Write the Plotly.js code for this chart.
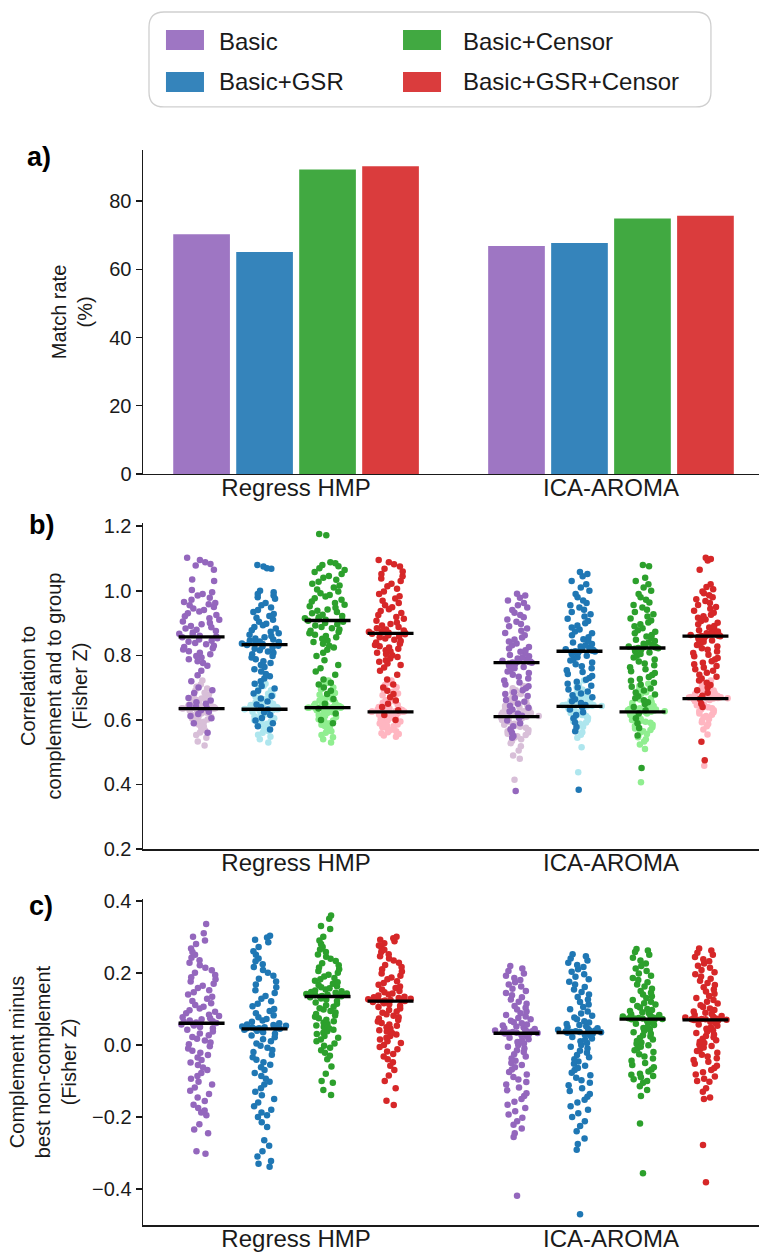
<!DOCTYPE html>
<html>
<head>
<meta charset="utf-8">
<script src="https://cdn.plot.ly/plotly-3.0.1.min.js"></script>
<style>html,body{margin:0;padding:0;background:#fff}#chart{width:759px;height:1252px}</style>
</head>
<body>
<div id="chart"></div>
<script>
// ---------------- DATA ----------------
const GROUPS = ['Regress HMP', 'ICA-AROMA'];
const SERIES = ['Basic', 'Basic+GSR', 'Basic+Censor', 'Basic+GSR+Censor'];

// a) match rate (%) per group [Regress HMP, ICA-AROMA]
const matchRateBasic = [70.3, 66.8];
const matchRateGsr = [65.1, 67.7];
const matchRateCensor = [89.3, 74.9];
const matchRateGsrCensor = [90.2, 75.7];

// b) correlation to complement (dark) and to group (light), Fisher Z
const hmpBasicComp = [1.102,1.095,1.088,1.083,1.078,1.065,1.035,1.030,1.002,0.995,0.990,0.985,0.978,0.972,0.965,0.962,0.958,0.955,0.950,0.945,0.940,0.936,0.930,0.925,0.921,0.915,0.910,0.905,0.900,0.896,0.891,0.887,0.883,0.879,0.875,0.871,0.867,0.864,0.861,0.858,
0.856,0.853,0.849,0.845,0.842,0.838,0.834,0.830,0.826,0.822,0.818,0.813,0.808,0.803,0.798,0.793,0.788,0.782,0.776,0.768,0.752,0.738,0.720,0.700,0.692,0.683,0.668,0.660,0.655,0.650,0.646,0.641,0.636,0.630,0.625,0.618,0.612,0.605,0.590,0.560];
const hmpBasicGroup = [0.722,0.710,0.703,0.697,0.690,0.684,0.679,0.674,0.670,0.666,0.662,0.659,0.656,0.653,0.651,0.649,0.647,0.645,0.643,0.642,0.641,0.640,0.639,0.638,0.638,0.637,0.637,0.636,0.636,0.635,
0.635,0.634,0.633,0.632,0.631,0.629,0.628,0.626,0.624,0.622,0.620,0.618,0.615,0.613,0.610,0.607,0.604,0.601,0.598,0.594,0.590,0.585,0.580,0.574,0.568,0.561,0.553,0.545,0.533,0.521];
const hmpGsrComp = [1.080,1.075,1.070,1.068,1.000,0.995,0.990,0.985,0.980,0.975,0.962,0.955,0.948,0.940,0.934,0.928,0.922,0.916,0.910,0.904,0.898,0.893,0.888,0.883,0.878,0.873,0.868,0.864,0.860,0.856,0.852,0.849,0.846,0.843,0.841,0.839,0.837,0.836,0.835,0.834,
0.832,0.830,0.827,0.824,0.820,0.816,0.812,0.808,0.803,0.798,0.793,0.788,0.782,0.776,0.770,0.764,0.757,0.750,0.742,0.735,0.728,0.720,0.712,0.705,0.697,0.690,0.682,0.674,0.666,0.657,0.648,0.640,0.632,0.624,0.615,0.606,0.598,0.590,0.580,0.570];
const hmpGsrGroup = [0.712,0.705,0.698,0.692,0.686,0.681,0.676,0.672,0.668,0.664,0.661,0.658,0.655,0.652,0.650,0.648,0.646,0.644,0.642,0.641,0.640,0.639,0.638,0.637,0.636,0.635,0.635,0.634,0.634,0.633,
0.633,0.632,0.631,0.630,0.628,0.627,0.625,0.623,0.621,0.619,0.616,0.614,0.611,0.608,0.605,0.602,0.599,0.596,0.592,0.588,0.584,0.580,0.575,0.570,0.565,0.560,0.554,0.548,0.540,0.530];
const hmpCensorComp = [1.176,1.172,1.088,1.085,1.080,1.076,1.070,1.064,1.058,1.052,1.046,1.040,1.034,1.028,1.022,1.016,1.010,1.004,0.998,0.992,0.987,0.982,0.977,0.972,0.967,0.962,0.957,0.952,0.947,0.942,0.938,0.934,0.930,0.926,0.922,0.918,0.915,0.912,0.910,0.909,
0.907,0.904,0.900,0.896,0.892,0.888,0.884,0.880,0.876,0.872,0.868,0.864,0.860,0.856,0.851,0.846,0.841,0.836,0.830,0.824,0.817,0.808,0.798,0.785,0.770,0.760,0.750,0.740,0.725,0.715,0.710,0.700,0.690,0.680,0.665,0.650,0.635,0.620,0.600,0.590];
const hmpCensorGroup = [0.722,0.714,0.707,0.700,0.694,0.688,0.683,0.678,0.674,0.670,0.666,0.663,0.660,0.657,0.655,0.652,0.650,0.648,0.646,0.645,0.644,0.643,0.642,0.641,0.640,0.640,0.639,0.639,0.638,0.638,
0.638,0.637,0.636,0.635,0.634,0.632,0.630,0.628,0.626,0.624,0.621,0.618,0.615,0.612,0.609,0.606,0.602,0.598,0.594,0.590,0.585,0.580,0.575,0.570,0.565,0.560,0.553,0.546,0.540,0.530];
const hmpGsrCensorComp = [1.095,1.088,1.082,1.075,1.068,1.060,1.052,1.045,1.038,1.030,1.022,1.014,1.006,0.998,0.990,0.983,0.976,0.969,0.962,0.955,0.949,0.943,0.937,0.931,0.925,0.919,0.913,0.907,0.902,0.897,0.892,0.888,0.884,0.880,0.877,0.875,0.873,0.871,0.870,0.869,
0.867,0.865,0.862,0.859,0.856,0.852,0.848,0.844,0.840,0.836,0.832,0.828,0.824,0.820,0.816,0.812,0.808,0.804,0.800,0.795,0.790,0.785,0.780,0.775,0.770,0.762,0.752,0.740,0.725,0.710,0.700,0.690,0.680,0.670,0.660,0.650,0.640,0.630,0.615,0.600];
const hmpGsrCensorGroup = [0.722,0.715,0.708,0.701,0.694,0.688,0.682,0.676,0.671,0.666,0.661,0.657,0.653,0.649,0.646,0.643,0.640,0.638,0.636,0.634,0.632,0.631,0.630,0.629,0.628,0.627,0.627,0.626,0.626,0.625,
0.625,0.624,0.623,0.621,0.620,0.618,0.616,0.614,0.612,0.610,0.607,0.604,0.601,0.598,0.595,0.592,0.589,0.586,0.583,0.580,0.577,0.574,0.571,0.568,0.565,0.562,0.559,0.556,0.552,0.548];

const icaBasicComp = [0.991,0.985,0.978,0.970,0.962,0.955,0.948,0.940,0.932,0.925,0.918,0.911,0.904,0.897,0.890,0.883,0.876,0.869,0.862,0.855,0.849,0.843,0.837,0.831,0.826,0.821,0.816,0.811,0.806,0.801,0.797,0.793,0.790,0.787,0.785,0.783,0.781,0.780,0.779,0.778,
0.777,0.775,0.772,0.768,0.764,0.760,0.755,0.750,0.745,0.740,0.734,0.728,0.722,0.716,0.710,0.704,0.698,0.692,0.686,0.680,0.674,0.668,0.662,0.656,0.650,0.644,0.638,0.632,0.626,0.620,0.613,0.606,0.598,0.590,0.580,0.570,0.560,0.550,0.545,0.380];
const icaBasicGroup = [0.705,0.698,0.692,0.686,0.680,0.674,0.669,0.664,0.659,0.655,0.651,0.647,0.643,0.639,0.636,0.633,0.630,0.627,0.625,0.623,0.621,0.619,0.617,0.615,0.614,0.613,0.612,0.611,0.611,0.610,
0.610,0.609,0.607,0.605,0.603,0.600,0.597,0.594,0.591,0.588,0.585,0.582,0.579,0.576,0.573,0.569,0.565,0.561,0.557,0.553,0.549,0.545,0.540,0.535,0.528,0.518,0.505,0.490,0.480,0.415];
const icaGsrComp = [1.058,1.052,1.045,1.030,1.020,1.010,1.000,0.990,0.980,0.970,0.962,0.955,0.948,0.941,0.934,0.927,0.920,0.913,0.906,0.899,0.892,0.886,0.880,0.874,0.868,0.862,0.856,0.850,0.845,0.840,0.835,0.831,0.827,0.824,0.821,0.819,0.817,0.815,0.814,0.813,
0.812,0.810,0.807,0.803,0.799,0.794,0.789,0.784,0.778,0.772,0.766,0.760,0.754,0.748,0.742,0.736,0.730,0.724,0.718,0.712,0.706,0.700,0.694,0.688,0.682,0.676,0.670,0.664,0.658,0.652,0.646,0.640,0.632,0.624,0.615,0.605,0.592,0.578,0.565,0.384];
const icaGsrGroup = [0.722,0.714,0.707,0.700,0.694,0.688,0.683,0.678,0.674,0.670,0.666,0.663,0.660,0.657,0.655,0.653,0.651,0.649,0.648,0.647,0.646,0.645,0.645,0.644,0.644,0.643,0.643,0.643,0.642,0.642,
0.642,0.641,0.640,0.638,0.636,0.634,0.632,0.630,0.627,0.624,0.621,0.618,0.615,0.612,0.609,0.606,0.603,0.600,0.596,0.592,0.588,0.584,0.579,0.574,0.568,0.562,0.554,0.545,0.515,0.438];
const icaCensorComp = [1.080,1.076,1.040,1.030,1.020,1.010,1.000,0.990,0.980,0.972,0.964,0.956,0.948,0.941,0.934,0.927,0.920,0.914,0.908,0.902,0.896,0.890,0.884,0.878,0.873,0.868,0.863,0.858,0.853,0.848,0.844,0.840,0.836,0.832,0.829,0.827,0.826,0.825,0.824,0.823,
0.822,0.820,0.817,0.813,0.809,0.804,0.799,0.793,0.787,0.781,0.775,0.769,0.763,0.757,0.751,0.745,0.739,0.733,0.727,0.721,0.715,0.709,0.703,0.697,0.691,0.685,0.679,0.673,0.667,0.661,0.655,0.649,0.640,0.630,0.620,0.605,0.590,0.575,0.552,0.451];
const icaCensorGroup = [0.712,0.705,0.698,0.692,0.686,0.681,0.676,0.671,0.667,0.663,0.659,0.655,0.652,0.649,0.646,0.643,0.640,0.638,0.636,0.634,0.632,0.631,0.630,0.629,0.628,0.627,0.627,0.626,0.626,0.625,
0.625,0.624,0.622,0.620,0.618,0.615,0.612,0.609,0.606,0.603,0.600,0.597,0.594,0.591,0.588,0.585,0.581,0.577,0.573,0.569,0.565,0.561,0.556,0.551,0.546,0.540,0.533,0.524,0.510,0.407];
const icaGsrCensorComp = [1.102,1.098,1.094,1.065,1.020,1.012,1.005,0.998,0.992,0.986,0.980,0.974,0.968,0.962,0.956,0.950,0.944,0.938,0.932,0.926,0.921,0.916,0.911,0.906,0.901,0.896,0.891,0.886,0.882,0.878,0.874,0.871,0.868,0.866,0.864,0.863,0.862,0.861,0.861,0.860,
0.859,0.857,0.854,0.850,0.846,0.842,0.837,0.832,0.827,0.822,0.817,0.812,0.807,0.802,0.797,0.792,0.787,0.782,0.777,0.772,0.767,0.762,0.757,0.752,0.746,0.740,0.734,0.728,0.722,0.715,0.708,0.700,0.692,0.684,0.675,0.665,0.650,0.640,0.532,0.475];
const icaGsrCensorGroup = [0.722,0.717,0.712,0.708,0.704,0.700,0.697,0.694,0.691,0.688,0.685,0.683,0.681,0.679,0.677,0.675,0.674,0.673,0.672,0.671,0.670,0.669,0.669,0.668,0.668,0.667,0.667,0.667,0.666,0.666,
0.666,0.665,0.664,0.662,0.660,0.658,0.656,0.654,0.651,0.648,0.645,0.642,0.639,0.636,0.633,0.630,0.627,0.624,0.620,0.616,0.612,0.608,0.603,0.598,0.593,0.587,0.580,0.570,0.555,0.458];

// c) complement minus best non-complement (Fisher Z)
const hmpBasicDiff = [0.336,0.310,0.300,0.290,0.280,0.268,0.258,0.250,0.242,0.235,0.228,0.221,0.214,0.207,0.200,0.194,0.188,0.182,0.176,0.170,0.164,0.158,0.152,0.146,0.140,0.134,0.128,0.122,0.116,0.111,0.106,0.101,0.096,0.092,0.088,0.084,0.080,0.077,0.074,0.071,0.068,0.066,0.064,0.062,0.061,
0.059,0.057,0.054,0.050,0.046,0.042,0.037,0.032,0.027,0.022,0.017,0.012,0.007,0.002,-0.004,-0.010,-0.016,-0.022,-0.028,-0.035,-0.042,-0.049,-0.056,-0.063,-0.070,-0.078,-0.086,-0.094,-0.102,-0.110,-0.118,-0.127,-0.136,-0.146,-0.156,-0.166,-0.175,-0.182,-0.188,-0.195,-0.220,-0.235,-0.245,-0.295,-0.302];
const hmpGsrDiff = [0.303,0.298,0.292,0.285,0.272,0.260,0.250,0.240,0.232,0.224,0.216,0.208,0.200,0.192,0.184,0.176,0.168,0.160,0.152,0.144,0.136,0.128,0.121,0.114,0.107,0.100,0.094,0.088,0.082,0.077,0.072,0.068,0.064,0.060,0.057,0.055,0.053,0.051,0.050,0.049,0.048,0.047,0.046,0.046,0.045,
0.044,0.042,0.039,0.035,0.031,0.026,0.021,0.016,0.010,0.004,-0.002,-0.008,-0.014,-0.020,-0.027,-0.034,-0.041,-0.048,-0.055,-0.062,-0.070,-0.078,-0.086,-0.094,-0.102,-0.110,-0.120,-0.130,-0.140,-0.150,-0.160,-0.170,-0.180,-0.188,-0.195,-0.200,-0.215,-0.228,-0.265,-0.280,-0.295,-0.310,-0.322,-0.330,-0.338];
const hmpCensorDiff = [0.359,0.350,0.330,0.322,0.300,0.290,0.280,0.272,0.265,0.258,0.251,0.245,0.239,0.233,0.227,0.221,0.215,0.210,0.205,0.200,0.195,0.190,0.186,0.182,0.178,0.174,0.170,0.166,0.163,0.160,0.157,0.154,0.151,0.149,0.147,0.145,0.143,0.141,0.140,0.139,0.138,0.137,0.136,0.136,0.135,
0.134,0.132,0.129,0.126,0.122,0.118,0.114,0.110,0.106,0.102,0.098,0.094,0.090,0.086,0.082,0.078,0.074,0.070,0.066,0.062,0.058,0.054,0.050,0.046,0.042,0.038,0.034,0.030,0.025,0.020,0.015,0.010,0.004,-0.002,-0.008,-0.015,-0.022,-0.030,-0.040,-0.060,-0.080,-0.100,-0.105,-0.125,-0.139];
const hmpGsrCensorDiff = [0.300,0.296,0.292,0.288,0.282,0.276,0.270,0.264,0.258,0.252,0.246,0.240,0.234,0.228,0.222,0.216,0.210,0.204,0.198,0.192,0.187,0.182,0.177,0.172,0.167,0.162,0.158,0.154,0.150,0.146,0.143,0.140,0.137,0.134,0.132,0.130,0.128,0.127,0.126,0.125,0.124,0.124,0.123,0.123,0.122,
0.121,0.119,0.116,0.113,0.109,0.105,0.101,0.097,0.093,0.089,0.085,0.081,0.077,0.073,0.069,0.065,0.061,0.057,0.053,0.049,0.045,0.041,0.037,0.033,0.029,0.025,0.020,0.015,0.010,0.005,0.000,-0.006,-0.012,-0.018,-0.025,-0.032,-0.040,-0.048,-0.058,-0.070,-0.085,-0.100,-0.120,-0.155,-0.167];
const icaBasicDiff = [0.219,0.212,0.205,0.198,0.192,0.186,0.180,0.174,0.168,0.162,0.156,0.150,0.144,0.138,0.132,0.126,0.120,0.114,0.108,0.103,0.098,0.093,0.088,0.083,0.079,0.075,0.071,0.067,0.063,0.060,0.057,0.054,0.051,0.048,0.046,0.044,0.042,0.040,0.038,0.037,0.036,0.035,0.034,0.034,0.033,
0.032,0.030,0.027,0.024,0.020,0.016,0.012,0.008,0.004,0.000,-0.005,-0.010,-0.015,-0.020,-0.026,-0.032,-0.038,-0.044,-0.050,-0.056,-0.062,-0.068,-0.075,-0.082,-0.089,-0.096,-0.103,-0.110,-0.118,-0.126,-0.134,-0.142,-0.150,-0.158,-0.166,-0.175,-0.184,-0.193,-0.202,-0.212,-0.222,-0.232,-0.245,-0.256,-0.419];
const icaGsrDiff = [0.252,0.246,0.240,0.234,0.228,0.222,0.216,0.210,0.203,0.196,0.189,0.182,0.175,0.168,0.161,0.154,0.147,0.140,0.133,0.126,0.119,0.112,0.105,0.099,0.093,0.087,0.081,0.076,0.071,0.066,0.062,0.058,0.055,0.052,0.049,0.046,0.044,0.042,0.040,0.039,0.038,0.037,0.036,0.036,0.035,
0.034,0.032,0.029,0.026,0.022,0.018,0.014,0.010,0.005,0.000,-0.005,-0.010,-0.016,-0.022,-0.028,-0.034,-0.040,-0.046,-0.052,-0.058,-0.064,-0.070,-0.077,-0.084,-0.091,-0.098,-0.105,-0.112,-0.120,-0.128,-0.136,-0.144,-0.152,-0.160,-0.170,-0.180,-0.190,-0.200,-0.212,-0.225,-0.240,-0.260,-0.275,-0.291,-0.470];
const icaCensorDiff = [0.266,0.262,0.258,0.250,0.242,0.234,0.226,0.219,0.212,0.205,0.198,0.192,0.186,0.180,0.174,0.168,0.162,0.156,0.150,0.145,0.140,0.135,0.130,0.125,0.120,0.116,0.112,0.108,0.104,0.100,0.097,0.094,0.091,0.088,0.085,0.083,0.081,0.079,0.077,0.076,0.075,0.074,0.073,0.073,0.072,
0.071,0.069,0.066,0.063,0.059,0.055,0.051,0.047,0.043,0.039,0.035,0.031,0.027,0.023,0.019,0.015,0.011,0.007,0.003,-0.001,-0.005,-0.010,-0.015,-0.020,-0.026,-0.032,-0.038,-0.044,-0.050,-0.056,-0.062,-0.068,-0.074,-0.080,-0.083,-0.086,-0.090,-0.095,-0.100,-0.105,-0.115,-0.125,-0.142,-0.218,-0.356];
const icaGsrCensorDiff = [0.268,0.262,0.256,0.250,0.244,0.238,0.232,0.226,0.220,0.214,0.208,0.202,0.196,0.190,0.184,0.178,0.172,0.166,0.160,0.154,0.148,0.142,0.136,0.130,0.125,0.120,0.115,0.110,0.105,0.101,0.097,0.093,0.089,0.086,0.083,0.080,0.078,0.076,0.074,0.073,0.072,0.071,0.071,0.070,0.070,
0.069,0.067,0.064,0.061,0.057,0.053,0.049,0.045,0.041,0.037,0.033,0.029,0.025,0.021,0.017,0.013,0.009,0.005,0.001,-0.003,-0.007,-0.012,-0.017,-0.022,-0.027,-0.032,-0.037,-0.042,-0.047,-0.052,-0.058,-0.064,-0.070,-0.076,-0.082,-0.088,-0.094,-0.100,-0.102,-0.120,-0.130,-0.146,-0.150,-0.278,-0.381];

// ---------------- STYLE ----------------
const FONT = 'Liberation Sans, Arial, Helvetica, sans-serif';
const DARK = ['#9467bd', '#1f77b4', '#2ca02c', '#d62728'];
const LIGHT = ['#d8bfd8', '#aee6ee', '#90ee90', '#ffb6c1'];
const INK = '#1a1a1a';

const matchRates = [matchRateBasic, matchRateGsr, matchRateCensor, matchRateGsrCensor];
const compHmp = [hmpBasicComp, hmpGsrComp, hmpCensorComp, hmpGsrCensorComp];
const compIca = [icaBasicComp, icaGsrComp, icaCensorComp, icaGsrCensorComp];
const groupHmp = [hmpBasicGroup, hmpGsrGroup, hmpCensorGroup, hmpGsrCensorGroup];
const groupIca = [icaBasicGroup, icaGsrGroup, icaCensorGroup, icaGsrCensorGroup];
const diffHmp = [hmpBasicDiff, hmpGsrDiff, hmpCensorDiff, hmpGsrCensorDiff];
const diffIca = [icaBasicDiff, icaGsrDiff, icaCensorDiff, icaGsrCensorDiff];

function median(a) {
  const s = a.slice().sort((p, q) => p - q);
  const n = s.length;
  return n % 2 ? s[(n - 1) / 2] : (s[n / 2 - 1] + s[n / 2]) / 2;
}

const traces = [];

// a) bars
SERIES.forEach((name, k) => {
  traces.push({
    type: 'bar', name: name, x: GROUPS, y: matchRates[k],
    xaxis: 'x', yaxis: 'y',
    marker: { color: DARK[k], opacity: 0.9, line: { width: 0 } },
    showlegend: false, hoverinfo: 'x+y+name'
  });
});

function stripTrace(name, hmp, ica, color, xa, ya, grp, k) {
  return {
    type: 'box', name: name,
    x: hmp.map(() => GROUPS[0]).concat(ica.map(() => GROUPS[1])),
    y: hmp.concat(ica),
    xaxis: xa, yaxis: ya,
    boxpoints: 'all', jitter: 1, pointpos: 0,
    marker: { color: color, size: 6.5, line: { width: 0 } },
    line: { width: 0, color: 'rgba(0,0,0,0)' },
    fillcolor: 'rgba(0,0,0,0)',
    whiskerwidth: 0,
    alignmentgroup: grp, offsetgroup: 's' + k,
    showlegend: false, hoverinfo: 'y+name'
  };
}
function medianTrace(name, hmp, ica, xa, ya, grp, k) {
  const m = [median(hmp), median(ica)];
  return {
    type: 'box', name: name + ' median',
    x: GROUPS, q1: m, median: m, q3: m, lowerfence: m, upperfence: m,
    xaxis: xa, yaxis: ya,
    boxpoints: false, whiskerwidth: 0,
    line: { width: 3.4, color: '#000' }, fillcolor: '#000',
    alignmentgroup: grp, offsetgroup: 's' + k,
    showlegend: false, hoverinfo: 'skip'
  };
}

// b) light (group) under dark (complement), then median lines
SERIES.forEach((name, k) => traces.push(stripTrace(name + ' (group)', groupHmp[k], groupIca[k], LIGHT[k], 'x2', 'y2', 'b', k)));
SERIES.forEach((name, k) => traces.push(stripTrace(name + ' (complement)', compHmp[k], compIca[k], DARK[k], 'x2', 'y2', 'b', k)));
SERIES.forEach((name, k) => {
  traces.push(medianTrace(name + ' (group)', groupHmp[k], groupIca[k], 'x2', 'y2', 'b', k));
  traces.push(medianTrace(name + ' (complement)', compHmp[k], compIca[k], 'x2', 'y2', 'b', k));
});

// c)
SERIES.forEach((name, k) => traces.push(stripTrace(name, diffHmp[k], diffIca[k], DARK[k], 'x3', 'y3', 'c', k)));
SERIES.forEach((name, k) => traces.push(medianTrace(name, diffHmp[k], diffIca[k], 'x3', 'y3', 'c', k)));

// ---------------- LAYOUT ----------------
const xBase = {
  type: 'category', categoryorder: 'array', categoryarray: GROUPS,
  range: [-0.486, 1.47], showline: true, linecolor: INK, linewidth: 1.5,
  ticks: '', ticklabelstandoff: -8, showgrid: false, zeroline: false,
  tickfont: { size: 24, color: INK, family: FONT }
};
function yBase(extra) {
  return Object.assign({
    showline: true, linecolor: INK, linewidth: 1.5,
    ticks: 'outside', ticklen: 6, tickwidth: 1.5, tickcolor: INK,
    showgrid: false, zeroline: false,
    tickfont: { size: 20, color: INK, family: FONT }
  }, extra);
}

const legendOrder = [0, 2, 1, 3];   // row-wise: Basic, Basic+Censor / Basic+GSR, Basic+GSR+Censor
const legCols = [[0.0373, 0.0990, 0.1201], [0.4221, 0.4838, 0.5162]];
const legRows = [[0.9592, 0.9755, 0.9665], [0.9249, 0.9412, 0.9331]];

const shapes = [{
  type: 'path', xref: 'paper', yref: 'paper',
  path: 'M 0.03409,0.9902 L 0.89765,0.9902 Q 0.922,0.9902 0.922,0.97796 L 0.922,0.92494 Q 0.922,0.9127 0.89765,0.9127 L 0.03409,0.9127 Q 0.00974,0.9127 0.00974,0.92494 L 0.00974,0.97796 Q 0.00974,0.9902 0.03409,0.9902 Z',
  line: { color: '#cfcfcf', width: 1.3 }, fillcolor: 'rgba(255,255,255,0.8)'
}];
const annotations = [];
legendOrder.forEach((k, i) => {
  const col = legCols[i % 2], row = legRows[Math.floor(i / 2)];
  shapes.push({
    type: 'rect', xref: 'paper', yref: 'paper',
    x0: col[0], x1: col[1], y0: row[0], y1: row[1],
    fillcolor: DARK[k], opacity: 0.9, line: { width: 0 }
  });
  annotations.push({
    xref: 'paper', yref: 'paper', x: col[2], y: row[2],
    xanchor: 'left', yanchor: 'middle', showarrow: false,
    text: SERIES[k], font: { size: 24, color: INK, family: FONT }
  });
});
[['a)', -0.1916, 0.8718], ['b)', -0.1883, 0.5714], ['c)', -0.1883, 0.2604]].forEach(p => {
  annotations.push({
    xref: 'paper', yref: 'paper', x: p[1], y: p[2], xanchor: 'left', yanchor: 'middle',
    showarrow: false, text: '<b>' + p[0] + '</b>', font: { size: 27, color: '#000', family: FONT }
  });
});

const layout = {
  width: 759, height: 1252,
  margin: { l: 143, r: 0, t: 0, b: 27 },
  paper_bgcolor: '#fff', plot_bgcolor: '#fff',
  font: { family: FONT, color: INK },
  barmode: 'group', bargap: 0.2, bargroupgap: 0.1,
  boxmode: 'group', boxgap: 0.2, boxgroupgap: 0.27,
  showlegend: false,
  xaxis: Object.assign({}, xBase, { anchor: 'y' }),
  xaxis2: Object.assign({}, xBase, { anchor: 'y2' }),
  xaxis3: Object.assign({}, xBase, { anchor: 'y3' }),
  yaxis: yBase({
    domain: [0.6131, 0.8776], anchor: 'x', range: [0, 95], tick0: 0, dtick: 20,
    title: { text: 'Match rate<br>(%)', font: { size: 20, color: INK, family: FONT }, standoff: 11 }
  }),
  yaxis2: yBase({
    domain: [0.3069, 0.5731], anchor: 'x2', range: [0.2, 1.21], tick0: 0.2, dtick: 0.2, tickformat: '.1f',
    title: { text: 'Correlation to<br>complement and to group<br>(Fisher Z)', font: { size: 20, color: INK, family: FONT }, standoff: 10 }
  }),
  yaxis3: yBase({
    domain: [0, 0.2661], anchor: 'x3', range: [-0.5, 0.405], tick0: 0, dtick: 0.2, tickformat: '.1f',
    title: { text: 'Complement minus<br>best non-complement<br>(Fisher Z)', font: { size: 20, color: INK, family: FONT }, standoff: 10 }
  }),
  shapes: shapes,
  annotations: annotations
};

Plotly.newPlot('chart', traces, layout, { staticPlot: true, displayModeBar: false });
</script>
</body>
</html>
